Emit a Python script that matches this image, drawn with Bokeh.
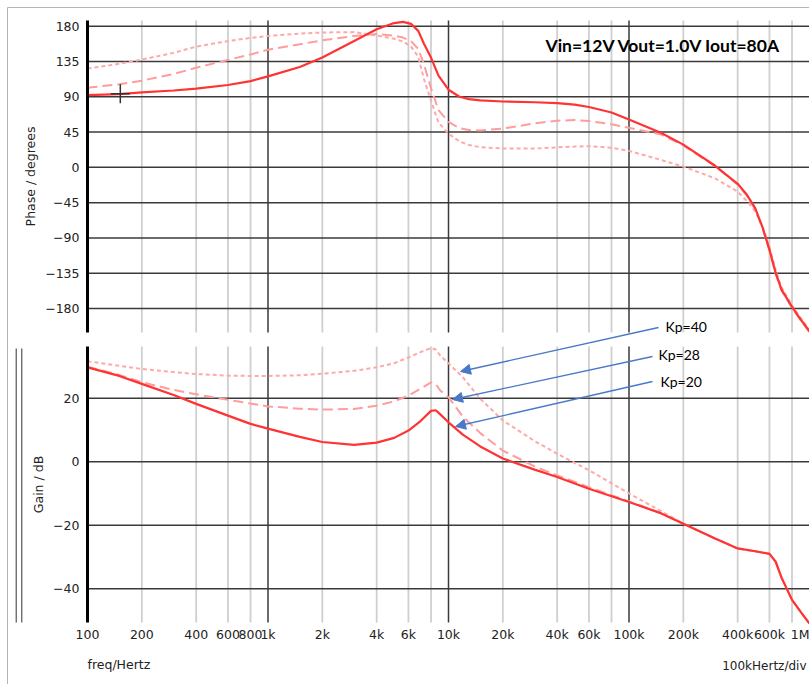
from bokeh.plotting import figure
from bokeh.models import (Range1d, FixedTicker, Label, LinearAxis, LogAxis,
                          Arrow, NormalHead)
from bokeh.embed import file_html
from bokeh.resources import INLINE

# ---------------- data ----------------
phase_freq = [100, 150, 200, 300, 400, 600, 800, 1e3, 1.5e3, 2e3,
              3e3, 4e3, 5e3, 5.6e3, 6.2e3, 6.8e3, 7.3e3, 8e3, 8.8e3, 1e4,
              1.15e4, 1.3e4, 1.5e4, 2e4, 3e4, 4e4, 5e4, 6e4, 8e4, 1e5,
              1.5e5, 2e5, 3e5, 4e5, 4.5e5, 5e5, 5.5e5, 6e5, 6.5e5, 7e5,
              8e5, 9e5, 1e6]
phase_kp20 = [92, 93.5, 95.5, 98, 100.5, 105, 110, 116, 128, 140,
              161, 176, 184, 185.5, 183, 174, 158, 140, 117, 99,
              90, 87, 85.5, 84, 83, 82, 80, 77, 70, 61,
              44, 29, 2, -21, -35, -52, -77, -105, -135, -156,
              -178, -195, -209]
phase_kp28 = [101.5, 106, 110.5, 119, 127, 137, 144, 150, 157, 162,
              167.5, 170, 168, 165.5, 161, 151, 132, 101, 73, 58,
              50, 47.5, 47, 49.5, 56, 59.5, 60.3, 59, 55, 50.5,
              42, 28, 1.5, -22, -36, -53, -78, -106, -136, -157,
              -179, -196, -210]
phase_kp40 = [126, 132, 137.5, 146, 154, 161, 165, 167.5, 170.5, 172,
              172.5, 168, 164, 160.5, 154, 141, 113, 85, 57, 43,
              33, 28.5, 25.7, 24, 24, 25.5, 26.5, 27, 25, 21,
              9.5, 1, -14, -31, -43, -56, -75, -102, -131, -153,
              -176, -193, -207]

gain_freq = [100, 150, 200, 300, 400, 600, 800, 1e3, 1.5e3, 2e3,
             3e3, 4e3, 5e3, 6e3, 7e3, 8e3, 8.5e3, 9e3, 1e4, 1.2e4,
             1.5e4, 2e4, 3e4, 4e4, 6e4, 1e5, 1.5e5, 2e5, 3e5, 4e5,
             5e5, 6e5, 6.5e5, 7e5, 8e5, 9e5, 1e6]
gain_kp20 = [29.7, 27, 24.5, 21, 18.2, 14.5, 11.9, 10.4, 7.8, 6.2,
             5.3, 6.0, 7.5, 9.8, 12.8, 16.0, 16.2, 14.9, 12.4, 8.5,
             4.8, 1.0, -2.5, -4.8, -8.5, -12.7, -16.2, -19.5, -24.2, -27.3,
             -28.2, -29.0, -31.5, -36.5, -43.5, -47.5, -51]
gain_kp28 = [29.9, 27.3, 25, 22.6, 21.2, 19.5, 18.3, 17.4, 16.7, 16.4,
             16.6, 17.6, 19, 20.8, 23, 25, 24.5, 22.4, 20.3, 14.2,
             9, 3.5, -1.5, -4.3, -8, -12.5, -16.2, -19.5, -24.2, -27.3,
             -28.2, -29.0, -31.5, -36.5, -43.5, -47.5, -51]
gain_kp40 = [31.6, 30.2, 29.2, 28.2, 27.6, 27.1, 27.0, 27.0, 27.2, 27.7,
             28.6, 29.7, 31, 32.8, 34.5, 35.8, 35.3, 33.4, 31, 26.6,
             19.8, 13, 6.5, 2.5, -2.7, -10, -15.5, -19.5, -24.2, -27.3,
             -28.2, -29.0, -31.5, -36.5, -43.5, -47.5, -51]

x_tick_values = [100, 200, 400, 600, 800, 1e3, 2e3, 4e3, 6e3, 1e4,
                 2e4, 4e4, 6e4, 1e5, 2e5, 4e5, 6e5, 1e6]
x_tick_labels = ["100", "200", "400", "600", "800", "1k", "2k", "4k", "6k", "10k",
                 "20k", "40k", "60k", "100k", "200k", "400k", "600k", "1M"]
x_minor_grid = [200, 400, 600, 800, 2e3, 4e3, 6e3, 8e3, 2e4, 4e4, 6e4, 8e4,
                2e5, 4e5, 6e5, 8e5]
x_major_grid = [1e3, 1e4, 1e5]
phase_ticks = [-180, -135, -90, -45, 0, 45, 90, 135, 180]
gain_ticks = [-40, -20, 0, 20]
kp_text = ["Kp=40", "Kp=28", "Kp=20"]
title_text = "Vin=12V Vout=1.0V Iout=80A"
cursor_freq = [152]
cursor_phase = [94]

# ---------------- layout constants (pixels, canvas = frame) ----------------
W, H = 809, 684
X100, DEC = 87, 180.5             # px of 100 Hz, px per decade
G0, GPX = 461.2, 3.1767           # px of 0 dB, px per dB
P0, PPX = 166.85, 0.78417         # px of 0 deg, px per degree
PH_TOP, PH_BOT = 20, 332          # phase panel
GA_TOP, GA_BOT = 346, 622         # gain panel


def fx(px):
    return 10 ** (2 + (px - X100) / DEC)


def gy(py):
    return (G0 - py) / GPX


def phy(py):
    return (P0 - py) / PPX


p = figure(width=W, height=H, x_axis_type="log",
           x_range=Range1d(fx(0), fx(W)),
           y_range=Range1d(gy(H), gy(0)),
           output_backend="svg", toolbar_location=None, title=None,
           x_axis_location=None, y_axis_location=None,
           min_border_left=0, min_border_right=0,
           min_border_top=0, min_border_bottom=0)
p.extra_y_ranges = {"phase": Range1d(phy(H), phy(0))}
p.outline_line_color = None
p.grid.visible = False
p.background_fill_color = "white"
p.border_fill_color = "white"

TXT = "#222222"
MAJ = "#3a3a3a"
MIN = "#cfcfcf"
FONT = "DejaVu Sans"
FS = "12.5px"

x_hi = fx(W + 5)
panels = [(phy(PH_BOT), phy(PH_TOP), "phase"), (gy(GA_BOT), gy(GA_TOP), "default")]

for lo, hi, rn in panels:
    n = len(x_minor_grid)
    p.segment(x0=x_minor_grid, y0=[lo] * n, x1=x_minor_grid, y1=[hi] * n,
              line_color=MIN, line_width=1.8, y_range_name=rn)
    m = len(x_major_grid)
    p.segment(x0=x_major_grid, y0=[lo] * m, x1=x_major_grid, y1=[hi] * m,
              line_color=MAJ, line_width=1.5, y_range_name=rn)

p.segment(x0=[100] * len(phase_ticks), y0=phase_ticks,
          x1=[x_hi] * len(phase_ticks), y1=phase_ticks,
          line_color=MAJ, line_width=1.5, y_range_name="phase")
p.segment(x0=[100] * len(gain_ticks), y0=gain_ticks,
          x1=[x_hi] * len(gain_ticks), y1=gain_ticks,
          line_color=MAJ, line_width=1.5)

# curves
C20, C28, C40 = "#ff3333", "#ff9c9c", "#ffa8a8"
p.line(phase_freq, phase_kp40, y_range_name="phase", line_color=C40,
       line_width=2, line_dash="4 3")
p.line(phase_freq, phase_kp28, y_range_name="phase", line_color=C28,
       line_width=2, line_dash="10 5")
p.line(phase_freq, phase_kp20, y_range_name="phase", line_color=C20,
       line_width=2.2, line_join="round")
p.line(gain_freq, gain_kp40, line_color=C40, line_width=2, line_dash="4 3")
p.line(gain_freq, gain_kp28, line_color=C28, line_width=2, line_dash="10 5")
p.line(gain_freq, gain_kp20, line_color=C20, line_width=2.2, line_join="round")

# cursor cross
p.scatter(cursor_freq, cursor_phase, marker="cross", size=19, line_color="#333333",
          line_width=1.5, y_range_name="phase")


def style_axis(a):
    a.major_tick_line_color = None
    a.minor_tick_line_color = None
    a.major_tick_out = 0
    a.major_tick_in = 0
    a.minor_tick_out = 0
    a.minor_tick_in = 0
    a.major_label_text_font = FONT
    a.major_label_text_font_size = FS
    a.major_label_text_color = TXT


# y axes drawn at the 100 Hz position, limited to their panels
for ticks, (lo, hi, rn) in zip([phase_ticks, gain_ticks], panels):
    ya = LinearAxis(y_range_name=rn, ticker=FixedTicker(ticks=ticks),
                    fixed_location=100, bounds=(lo, hi))
    style_axis(ya)
    ya.axis_line_color = "black"
    ya.axis_line_width = 3
    ya.major_label_standoff = 8
    p.add_layout(ya, "left")

# x axis at the bottom of the gain panel
xa = LogAxis(ticker=FixedTicker(ticks=x_tick_values), fixed_location=gy(GA_BOT))
style_axis(xa)
xa.axis_line_color = None
xa.major_label_standoff = 4
xa.major_label_overrides = {float(v): l for v, l in zip(x_tick_values, x_tick_labels)}
p.add_layout(xa, "below")

# axis titles and captions
p.add_layout(Label(x=fx(30), y=phy(176), y_range_name="phase", text="Phase / degrees",
                   angle=90, angle_units="deg", text_align="center",
                   text_baseline="middle", text_font=FONT,
                   text_font_size=FS, text_color=TXT))
p.add_layout(Label(x=fx(38), y=gy(484), text="Gain / dB",
                   angle=90, angle_units="deg", text_align="center",
                   text_baseline="middle", text_font=FONT,
                   text_font_size=FS, text_color=TXT))
p.add_layout(Label(x=fx(87), y=gy(664), text="freq/Hertz", text_align="left",
                   text_baseline="middle", text_font=FONT,
                   text_font_size=FS, text_color=TXT))
p.add_layout(Label(x=fx(W - 3), y=gy(665), text="100kHertz/div", text_align="right",
                   text_baseline="middle", text_font=FONT,
                   text_font_size="12px", text_color=TXT))

# title
p.add_layout(Label(x=fx(545), y=phy(45), y_range_name="phase", text=title_text,
                   text_align="left", text_baseline="middle", text_font="Lato",
                   text_font_style="bold", text_font_size="17.5px", text_color="black"))

# Kp annotations
BLUE = "#4a78c8"
kp_label_px = [(665, 326), (658, 354), (660, 381)]
kp_arrow_px = [((658, 327), (460, 371)), ((652, 356), (452, 399)),
               ((652, 381), (455, 426))]
for t, (lx, ly), ((sx, sy), (ex, ey)) in zip(kp_text, kp_label_px, kp_arrow_px):
    p.add_layout(Arrow(x_start=fx(sx), y_start=gy(sy), x_end=fx(ex), y_end=gy(ey),
                       line_color=BLUE, line_width=1.3,
                       end=NormalHead(size=10, fill_color=BLUE, line_color=BLUE)))
    p.add_layout(Label(x=fx(lx), y=gy(ly), text=t, text_align="left",
                       text_baseline="middle", text_font="Lato",
                       text_font_size="14px", text_color="black"))

# frame decorations
p.segment(x0=[fx(7), fx(7)], y0=[gy(7), gy(7)], x1=[fx(7), fx(W + 5)],
          y1=[gy(H + 5), gy(7)], line_color="#b4b4b4", line_width=1)
p.segment(x0=[fx(15.7), fx(21.3)], y0=[gy(348), gy(348)], x1=[fx(15.7), fx(21.3)],
          y1=[gy(GA_BOT), gy(GA_BOT)], line_color="#333333", line_width=1)

open("out.html", "w").write(file_html(p, INLINE))
